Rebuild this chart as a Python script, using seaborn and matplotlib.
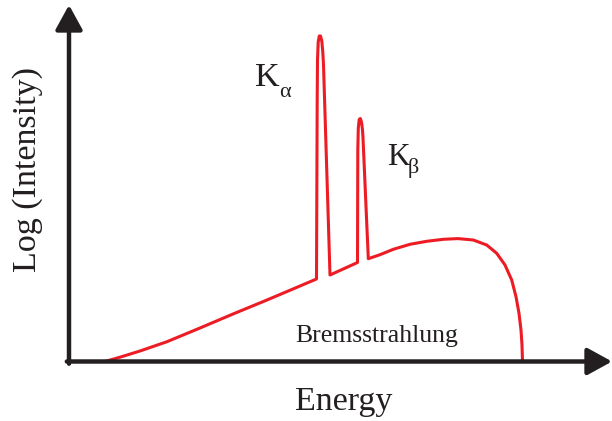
import matplotlib
matplotlib.use("Agg")
import matplotlib.pyplot as plt
import seaborn as sns
import pandas as pd

# Spectrum (arbitrary energy units, arbitrary log-intensity units)
energy = [36, 51, 71, 98, 131, 164, 198, 231, 247.5,
          248.2, 248.5, 249.2, 250.3, 251.5, 252.8, 253.8, 254.5, 261,
          288.5,
          288.8, 289.3, 290.2, 291.3, 292.5, 293.5, 294, 299.3,
          311, 324.3, 341, 357.7, 374.3, 389, 404.3, 417.7, 427.7,
          436, 442.7, 447, 450, 452, 453, 453.5]
log_intensity = [0, 4.3, 10.5, 19.8, 33.5, 47.5, 61.5, 75.5, 82.5,
                 261.5, 301.5, 319.5, 325.5, 325.5, 320.5, 309.5, 296.5, 86.5,
                 99,
                 211.5, 233.5, 242, 243, 239.5, 231.5, 223.5, 102.8,
                 106.8, 112.2, 117.2, 120.2, 122.2, 122.9, 121.5, 116.5, 108.2,
                 96.5, 81.5, 64.8, 48.2, 31.5, 16.5, 0]

x_label = "Energy"
y_label = "Log (Intensity)"
continuum_label = "Bremsstrahlung"
peak_labels = [("K", "α"), ("K", "β")]

sns.set_theme(style="white")
plt.rcParams["font.family"] = ["Liberation Serif", "DejaVu Serif"]

fig = plt.figure(figsize=(6.12, 4.21), dpi=100)
W, H = 612, 421
ox, oy = 69, 361.5
ax = fig.add_axes([ox / W, (H - oy) / H, (W - ox) / W, (oy - 5) / H])
ax.set_xlim(0, W - ox)
ax.set_ylim(0, oy - 5)
ax.set_axis_off()

df = pd.DataFrame({"energy": energy, "logI": log_intensity})
sns.lineplot(data=df, x="energy", y="logI", sort=False, ax=ax,
             color="#ed1c24", lw=2.2, estimator=None)

axis_col = "#231f20"
arrow = dict(arrowstyle="-|>,head_length=1.0,head_width=0.55",
             mutation_scale=15, lw=3.2, color=axis_col,
             shrinkA=0, shrinkB=0)
ax.annotate("", xy=(0, oy - 5), xytext=(0, -2.2), xycoords="data",
            arrowprops=arrow, annotation_clip=False)
ax.annotate("", xy=(W - ox, 0), xytext=(-2.2, 0), xycoords="data",
            arrowprops=arrow, annotation_clip=False)

ax.text(-41.5, 191.5, y_label, rotation=90, ha="center", va="center",
        fontsize=24.5, color=axis_col, clip_on=False)
ax.text(275, -48.5, x_label, ha="center", va="baseline",
        fontsize=24.5, color=axis_col, clip_on=False)
ax.text(307.5, 19.5, continuum_label, ha="center", va="baseline",
        fontsize=18.5, color=axis_col)

ax.text(186, 275.5, peak_labels[0][0], ha="left", va="baseline",
        fontsize=24.5, color=axis_col)
ax.text(210, 264.5, peak_labels[0][1], ha="left", va="baseline",
        fontsize=16, color=axis_col)
ax.text(318, 196.5, peak_labels[1][0], ha="left", va="baseline",
        fontsize=22.5, color=axis_col)
ax.text(339, 188.5, peak_labels[1][1], ha="left", va="baseline",
        fontsize=16, color=axis_col)

fig.savefig("out.png", dpi=100)
